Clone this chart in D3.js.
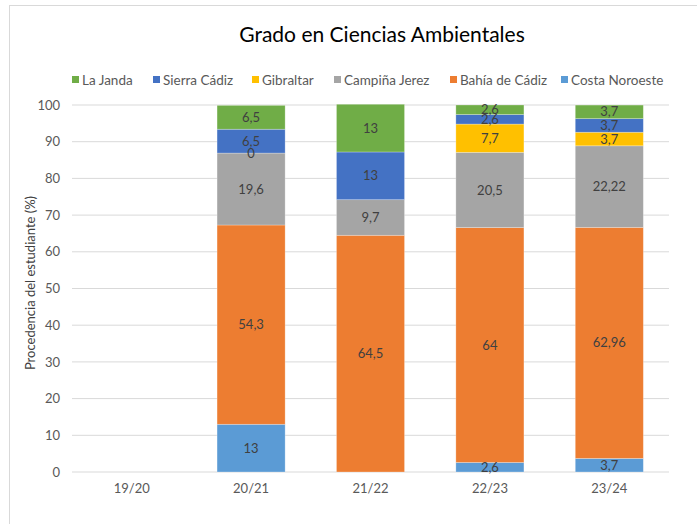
<!DOCTYPE html>
<html><head><meta charset="utf-8">
<script src="https://cdn.jsdelivr.net/npm/d3@7"></script>
<style>body{margin:0;background:#fff}svg{display:block;font-family:Lato, "Noto Sans", sans-serif}</style>
</head><body><svg id="c" width="697" height="524"></svg>
<script>
const categories = ["19/20","20/21","21/22","22/23","23/24"];
const seriesNames = ["Costa Noroeste","Bahía de Cádiz","Campiña Jerez","Gibraltar","Sierra Cádiz","La Janda"];
const costaNoroeste = [null, 13, null, 2.6, 3.7];
const bahiaCadiz   = [null, 54.3, 64.5, 64, 62.96];
const campinaJerez = [null, 19.6, 9.7, 20.5, 22.22];
const gibraltar    = [null, 0, null, 7.7, 3.7];
const sierraCadiz  = [null, 6.5, 13, 2.6, 3.7];
const laJanda      = [null, 6.5, 13, 2.6, 3.7];
const yTicks = [0,10,20,30,40,50,60,70,80,90,100];
const colors = ["#5B9BD5","#ED7D31","#A5A5A5","#FFC000","#4472C4","#70AD47"];
const seriesValues = [costaNoroeste, bahiaCadiz, campinaJerez, gibraltar, sierraCadiz, laJanda];

const svg = d3.select("#c");
svg.append("rect").attr("x",9.5).attr("y",5.5).attr("width",760).attr("height",560)
  .attr("fill","#fff").attr("stroke","#D9D9D9");

const x = d3.scaleBand().domain(categories).range([72,669]).paddingInner(0.43).paddingOuter(0.215);
const y = d3.scaleLinear().domain([0,100]).range([472,105]);

// gridlines
svg.append("g").selectAll("line").data(yTicks).join("line")
  .attr("x1",72).attr("x2",669).attr("y1",d=>y(d)).attr("y2",d=>y(d))
  .attr("stroke","#D9D9D9").attr("stroke-width",1);

// y axis labels
const yAxis = d3.axisLeft(y).tickValues(yTicks).tickSize(0).tickPadding(12);
const gy = svg.append("g").attr("transform","translate(72,0)").call(yAxis);
gy.select(".domain").remove();
gy.selectAll("text").attr("fill","#595959").style("font-size","13px").style("font-family","Lato, 'Noto Sans', sans-serif");

// x axis labels
const xAxis = d3.axisBottom(x).tickSize(0).tickPadding(12);
const gx = svg.append("g").attr("transform","translate(0,472)").call(xAxis);
gx.select(".domain").remove();
gx.selectAll("text").attr("fill","#595959").style("font-size","13px").style("font-family","Lato, 'Noto Sans', sans-serif");

// stacked data
const rows = categories.map((c,i)=>{
  const o = {cat:c};
  seriesNames.forEach((s,k)=>{ o[s] = seriesValues[k][i] == null ? 0 : seriesValues[k][i]; });
  return o;
});
const stack = d3.stack().keys(seriesNames)(rows);

stack.forEach((layer,k)=>{
  const g = svg.append("g");
  g.selectAll("rect").data(layer).join("rect")
    .attr("x",d=>x(d.data.cat)).attr("width",x.bandwidth())
    .attr("y",d=>y(d[1])).attr("height",d=>y(d[0])-y(d[1]))
    .attr("fill",colors[k]).attr("stroke","#fff").attr("stroke-opacity",0.35).attr("stroke-width",0.75);
});
stack.forEach((layer,k)=>{
  const g = svg.append("g");
  g.selectAll("text").data(layer.filter((d,i)=>seriesValues[k][i]!=null)).join("text")
    .attr("x",d=>x(d.data.cat)+x.bandwidth()/2)
    .attr("y",d=>(y(d[0])+y(d[1]))/2)
    .attr("dy","0.35em").attr("text-anchor","middle")
    .attr("fill","#404040").style("font-size","13px")
    .text((d,i)=>String(d[1]-d[0] === 0 ? 0 : +(d[1]-d[0]).toFixed(2)).replace(".",","));
});

// title
svg.append("text").attr("x",382).attr("y",42).attr("text-anchor","middle")
  .attr("fill","#000").style("font-size","21px").text("Grado en Ciencias Ambientales");

// y title
svg.append("text").attr("transform","translate(35,283) rotate(-90)").attr("text-anchor","middle")
  .attr("fill","#404040").style("font-size","13px").text("Procedencia del estudiante (%)");

// legend
const legendX = [72,153,252,334,450,561];
const legendOrder = ["La Janda","Sierra Cádiz","Gibraltar","Campiña Jerez","Bahía de Cádiz","Costa Noroeste"];
const lg = svg.append("g");
legendOrder.forEach((name,i)=>{
  const k = seriesNames.indexOf(name);
  lg.append("rect").attr("x",legendX[i]).attr("y",76).attr("width",7).attr("height",7).attr("fill",colors[k]);
  lg.append("text").attr("x",legendX[i]+10).attr("y",80).attr("dy","0.35em")
    .attr("fill","#595959").style("font-size","13.5px").text(name);
});
</script></body></html>
